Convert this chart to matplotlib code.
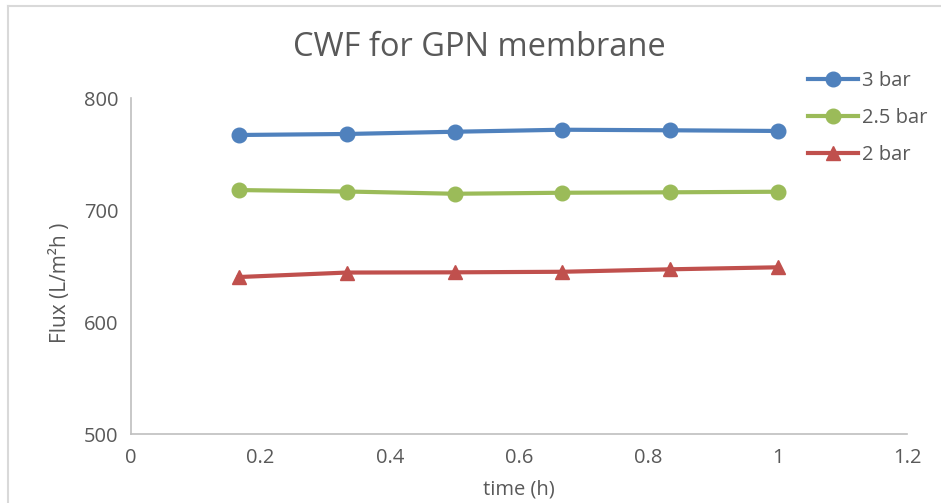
import numpy as np
import matplotlib.pyplot as plt
from matplotlib.lines import Line2D

# time points (h) and pure water flux (L/m2h) at each pressure
time_h = [1/6, 2/6, 3/6, 4/6, 5/6, 1.0]
flux_3bar = [767.4, 768.3, 770.3, 772.1, 771.6, 771.0]
flux_25bar = [718.2, 716.9, 714.9, 715.8, 716.2, 716.7]
flux_2bar = [640.5, 644.5, 644.7, 645.2, 647.4, 649.2]

series_labels = ["3 bar", "2.5 bar", "2 bar"]
x_ticks = [0, 0.2, 0.4, 0.6, 0.8, 1.0, 1.2]
x_ticklabels = ["0", "0.2", "0.4", "0.6", "0.8", "1", "1.2"]
y_ticks = [500, 600, 700, 800]

plt.rcParams['font.family'] = ['Open Sans', 'DejaVu Sans']
text_col = "#595959"
grid_col = "#d9d9d9"

fig = plt.figure(figsize=(9.41, 5.03), dpi=100)
ax = fig.add_axes([131/941, 1 - 434.3/503, 776.4/941, 335.8/503])

ax.plot(time_h, flux_3bar, color="#4f81bd", lw=3, marker="o", ms=10.5, label=series_labels[0])
ax.plot(time_h, flux_25bar, color="#9bbb59", lw=3, marker="o", ms=10.5, label=series_labels[1])
ax.plot(time_h, flux_2bar, color="#c0504d", lw=3, marker="^", ms=10.5, label=series_labels[2])

ax.set_xlim(0, 1.2)
ax.set_ylim(500, 800)
ax.set_xticks(x_ticks)
ax.set_xticklabels(x_ticklabels)
ax.set_yticks(y_ticks)
ax.tick_params(length=0, labelsize=14.5, colors=text_col, pad=10)
ax.tick_params(axis='y', pad=9)

for s in ["top", "right"]:
    ax.spines[s].set_visible(False)
for s in ["left", "bottom"]:
    ax.spines[s].set_color("#bfbfbf")
    ax.spines[s].set_linewidth(1.2)

ax.set_xlabel("time (h)", fontsize=14.5, color=text_col, labelpad=0)
ax.set_ylabel("Flux (L/m\u00b2h )", fontsize=15, color=text_col, labelpad=0)
ax.yaxis.set_label_coords(-60/776.4, 0.45)
ax.xaxis.set_label_coords(0.5, -0.135)

fig.text(479/941, 1 - 48/503, "CWF for GPN membrane", fontsize=23.5, color=text_col,
         ha="center", va="center")

ax.legend(loc="upper left", bbox_to_anchor=(800/941, 1 - 63/503), bbox_transform=fig.transFigure,
          frameon=False, fontsize=14.5, labelcolor=text_col, handlelength=2.5,
          handletextpad=0.2, labelspacing=0.85, borderaxespad=0)

# chart area border (left and top edges)
fig.add_artist(Line2D([7.5/941, 7.5/941], [0, 1 - 5.5/503], transform=fig.transFigure,
                      color=grid_col, lw=1.5))
fig.add_artist(Line2D([7.5/941, 1], [1 - 5.5/503, 1 - 5.5/503], transform=fig.transFigure,
                      color=grid_col, lw=1.5))

fig.savefig("out.png", dpi=100)
